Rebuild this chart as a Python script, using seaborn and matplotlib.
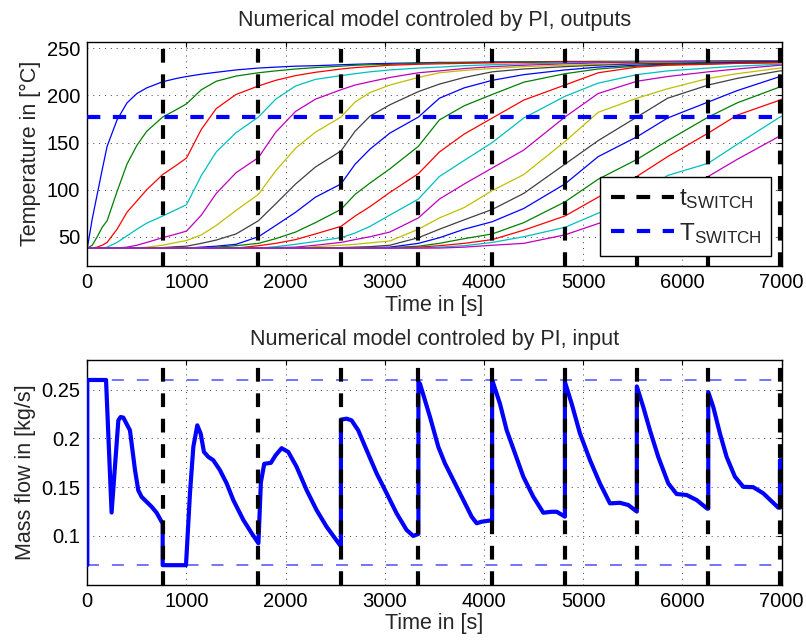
import numpy as np
import pandas as pd
import matplotlib
matplotlib.use("Agg")
import matplotlib.pyplot as plt
from matplotlib.lines import Line2D
import seaborn as sns

# ---------------- data ----------------
time_grid_s = [0, 50, 100, 150, 200, 300, 400, 500, 600, 760, 900, 1000, 1150, 1300, 1500,
               1725, 1900, 2100, 2300, 2557, 2700, 2850, 3050, 3338, 3550, 3800, 4083, 4400,
               4815, 5150, 5540, 5850, 6260, 6550, 6983, 7000]

temp_01 = [38, 69, 95, 121, 146, 174, 192, 202, 208, 214.5, 218, 220, 222.5, 224.5, 227, 229, 230, 231,
           231.5, 232.5, 233, 233.5, 234, 234.5, 235, 235, 235.5, 235.5, 236, 236, 236, 236, 236.5, 236.5, 236.5, 236.5]
temp_02 = [38, 41, 50, 60, 67, 98, 127, 147, 162, 177, 185, 191, 206, 215, 220.5, 224, 226, 228,
           229.5, 231, 232, 232.5, 233, 234, 234.5, 235, 235, 235.5, 235.5, 236, 236, 236, 236, 236.5, 236.5, 236.5]
temp_03 = [38, 38, 39, 41, 44, 58, 76, 88, 100, 116, 126, 133.5, 164, 186, 201, 210, 216, 221,
           224.5, 228, 229.5, 230.5, 232, 233, 233.5, 234, 234.5, 235, 235.5, 235.5, 236, 236, 236, 236, 236.5, 236.5]
temp_04 = [38, 38, 38, 38, 39, 44, 51, 58, 64.5, 72, 79, 84, 115, 140, 160.5, 177, 196, 210,
           217, 221, 223, 225, 227, 229, 230, 231.5, 232.5, 233.5, 234.5, 235, 235.5, 235.5, 236, 236, 236, 236]
temp_05 = [38, 38, 38, 38, 38, 38, 39, 41, 44, 49, 53, 56, 73, 96, 118, 134, 161, 183,
           196, 206, 211, 214.5, 219, 224, 226, 228.5, 230.5, 232, 233.5, 234.5, 235, 235.5, 235.5, 236, 236, 236]
temp_06 = [38, 38, 38, 38, 38, 38, 38, 38, 39, 41, 44, 46, 52, 62, 78, 95, 120, 144,
           161, 177, 193, 203, 211, 219, 224, 226.5, 228.5, 230.5, 232, 233, 234, 234.5, 235, 235.5, 236, 236]
temp_07 = [38, 38, 38, 38, 38, 38, 38, 38, 38, 38.5, 39.5, 40, 43, 46.5, 53, 67, 85, 106,
           124, 141, 162, 178, 190, 204, 212, 219, 225, 228, 230.5, 232, 233.5, 234, 235, 235.5, 236, 236]
temp_08 = [38, 38, 38, 38, 38, 38, 38, 38, 38, 38, 38, 38, 39, 40, 42, 50, 62, 76,
           92, 106, 127, 143, 160, 177, 197, 208, 216, 222, 227, 230, 232, 233, 234, 235, 235.5, 235.5]
temp_09 = [38, 38, 38, 38, 38, 38, 38, 38, 38, 38, 38, 38, 38, 39, 40.5, 43, 48, 55,
           65, 79, 95, 107, 122, 146, 174, 189, 201, 214, 223, 228, 231, 232.5, 233.5, 234, 235, 235]
temp_10 = [38, 38, 38, 38, 38, 38, 38, 38, 38, 38, 38, 38, 38, 38, 38, 40.5, 43, 47,
           53, 61, 72, 82, 97, 117, 140, 159, 176, 195, 211, 224, 230, 232, 233, 234, 234.5, 234.5]
temp_11 = [38, 38, 38, 38, 38, 38, 38, 38, 38, 38, 38, 38, 38, 38, 38, 38, 39.5, 42,
           45, 49, 54, 61, 73, 90, 114, 131, 150, 176, 199, 213, 222, 226, 229, 231, 233, 233]
temp_12 = [38, 38, 38, 38, 38, 38, 38, 38, 38, 38, 38, 38, 38, 38, 38, 38, 38.5, 39,
           41, 44, 47, 50, 55, 70, 90, 106, 123, 142, 177, 202, 215, 220, 225, 228, 232, 232]
temp_13 = [38, 38, 38, 38, 38, 38, 38, 38, 38, 38, 38, 38, 38, 38, 38, 38, 38, 38,
           39.5, 41, 42, 43.5, 45.5, 58, 70, 81, 99, 116, 151, 182, 197, 207, 218, 223, 229, 229]
temp_14 = [38, 38, 38, 38, 38, 38, 38, 38, 38, 38, 38, 38, 38, 38, 38, 38, 38, 38,
           38, 38.5, 39, 39.5, 41, 49, 58, 68, 79, 96, 127, 152, 177, 197, 211, 218, 226, 226]
temp_15 = [38, 38, 38, 38, 38, 38, 38, 38, 38, 38, 38, 38, 38, 38, 38, 38, 38, 38,
           38, 38, 38, 38.5, 39, 43, 49, 58, 66, 80, 106, 135, 156, 176, 193, 205, 220, 220]
temp_16 = [38, 38, 38, 38, 38, 38, 38, 38, 38, 38, 38, 38, 38, 38, 38, 38, 38, 38,
           38, 38, 38, 38, 38.5, 40, 43, 48, 53, 65, 87, 111, 132, 152, 177, 192, 209, 209]
temp_17 = [38, 38, 38, 38, 38, 38, 38, 38, 38, 38, 38, 38, 38, 38, 38, 38, 38, 38,
           38, 38, 38, 38, 38, 39, 40.5, 43, 47, 57, 72, 92, 114, 135, 160, 179, 195, 196]
temp_18 = [38, 38, 38, 38, 38, 38, 38, 38, 38, 38, 38, 38, 38, 38, 38, 38, 38, 38,
           38, 38, 38, 38, 38, 38, 39, 40.5, 44, 50, 60, 75, 92, 115, 128, 148, 177, 178]
temp_19 = [38, 38, 38, 38, 38, 38, 38, 38, 38, 38, 38, 38, 38, 38, 38, 38, 38, 38,
           38, 38, 38, 38, 38, 38, 38, 39, 41, 43, 52, 64, 76, 92, 114, 132, 157, 158]

t_switch_s = [760, 1725, 2557, 3338, 4081, 4815, 5540, 6260, 6983]
T_switch_c = 177

flow_time_s = [0, 0, 189, 245, 313, 336, 363, 430, 447, 481, 514, 548, 598, 648, 699, 749, 760, 760,
               995, 1035, 1069, 1109, 1143, 1176, 1220, 1270, 1337, 1405, 1472, 1573, 1657, 1725,
               1750, 1784, 1851, 1900, 1959, 2026, 2110, 2211, 2311, 2412, 2546, 2557, 2557,
               2614, 2664, 2731, 2816, 2917, 3018, 3118, 3219, 3286, 3338, 3338,
               3354, 3455, 3539, 3606, 3690, 3791, 3875, 3925, 3976, 4070, 4081, 4081,
               4160, 4228, 4312, 4396, 4496, 4597, 4681, 4732, 4815, 4815,
               4883, 4967, 5068, 5168, 5269, 5370, 5454, 5540, 5540,
               5605, 5672, 5756, 5857, 5941, 6042, 6143, 6250, 6260, 6260,
               6311, 6378, 6445, 6529, 6613, 6714, 6815, 6966, 6983, 6983, 7000]
flow_kg_s = [0.07, 0.26, 0.26, 0.124, 0.2186, 0.222, 0.2214, 0.2084, 0.1948, 0.1675, 0.1468, 0.140,
             0.135, 0.130, 0.1238, 0.1146, 0.113, 0.07,
             0.07, 0.1437, 0.1913, 0.2135, 0.205, 0.1862, 0.1811, 0.1777, 0.1675, 0.1539, 0.1368,
             0.1164, 0.1028, 0.0925,
             0.155, 0.174, 0.175, 0.183, 0.190, 0.1862, 0.1709, 0.147, 0.1266, 0.1095, 0.0908, 0.0895, 0.2193,
             0.2203, 0.2186, 0.2084, 0.188, 0.1641, 0.1437, 0.1232, 0.1061, 0.100, 0.102, 0.258,
             0.2561, 0.222, 0.1913, 0.1743, 0.1573, 0.1368, 0.1197, 0.113, 0.1146, 0.116, 0.116, 0.2602,
             0.2357, 0.2084, 0.1846, 0.1607, 0.1402, 0.1238, 0.1248, 0.1248, 0.1198, 0.258,
             0.2357, 0.205, 0.1777, 0.1539, 0.1334, 0.134, 0.1317, 0.125, 0.2534,
             0.2322, 0.2084, 0.1811, 0.1539, 0.143, 0.142, 0.1368, 0.128, 0.128, 0.2476,
             0.2322, 0.205, 0.1811, 0.1607, 0.1504, 0.150, 0.1437, 0.129, 0.129, 0.1777, 0.1777]
flow_max_kg_s = 0.26
flow_min_kg_s = 0.07

temp_ticks = [50, 100, 150, 200, 250]
flow_ticks = [0.1, 0.15, 0.2, 0.25]
flow_tick_labels = ["0.1", "0.15", "0.2", "0.25"]
time_ticks = [0, 1000, 2000, 3000, 4000, 5000, 6000, 7000]

# ---------------- style ----------------
sns.set_theme(style="white")
plt.rcParams['font.family'] = ['Liberation Sans', 'DejaVu Sans']
plt.rcParams['mathtext.fontset'] = 'custom'
plt.rcParams['mathtext.rm'] = 'Liberation Sans'
plt.rcParams['mathtext.it'] = 'Liberation Sans'
FS_LABEL = 15.5
FS_TICK = 14.5
FS_LEG = 17.5

matlab_colors = [(0, 0, 1), (0, 0.5, 0), (1, 0, 0), (0, 0.75, 0.75),
                 (0.75, 0, 0.75), (0.75, 0.75, 0), (0.25, 0.25, 0.25)]

curves = [temp_01, temp_02, temp_03, temp_04, temp_05, temp_06, temp_07, temp_08, temp_09, temp_10,
          temp_11, temp_12, temp_13, temp_14, temp_15, temp_16, temp_17, temp_18, temp_19]
names = [f"T{i+1:02d}" for i in range(len(curves))]
df = pd.concat([pd.DataFrame({"time": time_grid_s, "temp": c, "curve": n})
                for c, n in zip(curves, names)], ignore_index=True)
palette = {n: matlab_colors[i % 7] for i, n in enumerate(names)}

fig = plt.figure(figsize=(8.06, 6.42), dpi=100)
ax1 = fig.add_axes([0.1083, 0.5857, 0.8615, 0.3494])
ax2 = fig.add_axes([0.1083, 0.0893, 0.8615, 0.3492])

grid_kw = dict(color='0.25', linestyle=(0, (1, 5)), linewidth=0.7)
dash_black = dict(color='black', linewidth=3, linestyle=(0, (3.3, 2.8)))
dash_blue = dict(color=(0, 0, 1), linewidth=3, linestyle=(0, (3.2, 3.0)))

# top panel
sns.lineplot(data=df, x="time", y="temp", hue="curve", hue_order=names, palette=palette,
             estimator=None, sort=False, linewidth=0.9, legend=False, ax=ax1)
for t in t_switch_s:
    ax1.axvline(t, zorder=4, **dash_black)
ax1.axhline(T_switch_c, zorder=5, **dash_blue)
ax1.set_xlim(0, 7000)
ax1.set_ylim(19, 257)
ax1.set_yticks(temp_ticks)
ax1.set_xticks(time_ticks)
ax1.set_title("Numerical model controled by PI, outputs", fontsize=FS_LABEL, pad=11)
ax1.set_xlabel("Time in [s]", fontsize=FS_LABEL, labelpad=2)
ax1.set_ylabel("Temperature in [°C]", fontsize=FS_LABEL, labelpad=4)
handles = [Line2D([], [], **dash_black), Line2D([], [], **dash_blue)]
leg = ax1.legend(handles, [r"$\mathrm{t}_{\mathrm{SWITCH}}$", r"$\mathrm{T}_{\mathrm{SWITCH}}$"],
                 loc="lower right", fontsize=FS_LEG, frameon=True, fancybox=False, framealpha=1,
                 edgecolor='black', borderaxespad=0.42, handlelength=2.6, handletextpad=0.2,
                 labelspacing=0.38, borderpad=0.42)
leg.get_frame().set_linewidth(1.0)
leg.set_zorder(10)

# bottom panel
ax2.axhline(flow_max_kg_s, color='#4d4dff', linewidth=1.1, linestyle=(0, (7.8, 8.5)), zorder=2)
ax2.axhline(flow_min_kg_s, color='#4d4dff', linewidth=1.1, linestyle=(0, (7.8, 8.5)), zorder=2)
sns.lineplot(x=flow_time_s, y=flow_kg_s, estimator=None, sort=False, color=(0, 0, 1),
             linewidth=3, ax=ax2, zorder=3)
for t in t_switch_s:
    ax2.axvline(t, zorder=4, **dash_black)
ax2.set_xlim(0, 7000)
ax2.set_ylim(0.05, 0.28)
ax2.set_yticks(flow_ticks)
ax2.set_yticklabels(flow_tick_labels)
ax2.set_xticks(time_ticks)
ax2.set_title("Numerical model controled by PI, input", fontsize=FS_LABEL, pad=11)
ax2.set_xlabel("Time in [s]", fontsize=FS_LABEL, labelpad=2)
ax2.set_ylabel("Mass flow in [kg/s]", fontsize=FS_LABEL, labelpad=4)

for ax in (ax1, ax2):
    ax.grid(True, **grid_kw)
    ax.set_axisbelow(True)
    ax.tick_params(direction='in', length=3.6, width=0.8, top=True, right=True,
                   labelsize=FS_TICK, pad=5, colors='black')
    for s in ax.spines.values():
        s.set_visible(True)
        s.set_color('black')
        s.set_linewidth(1.0)

fig.savefig("out.png", dpi=100)
